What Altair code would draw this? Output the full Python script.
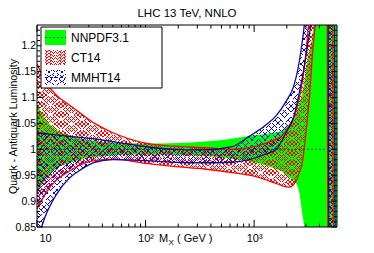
import math
import altair as alt
import pandas as pd

# ---------------- data ----------------
TITLE = "LHC 13 TeV, NNLO"
Y_TITLE = "Quark - Antiquark Luminosity"
SERIES = ["NNPDF3.1", "CT14", "MMHT14"]

X_TICKS = [10, 100, 1000]
X_MINOR = [20, 30, 40, 50, 60, 70, 80, 90, 200, 300, 400, 500, 600, 700, 800, 900,
           2000, 3000, 4000, 5000]
Y_TICKS = [0.85, 0.9, 0.95, 1.0, 1.05, 1.1, 1.15, 1.2]
Y_MINOR = [0.86, 0.87, 0.88, 0.89, 0.91, 0.92, 0.93, 0.94, 0.96, 0.97, 0.98, 0.99,
           1.01, 1.02, 1.03, 1.04, 1.06, 1.07, 1.08, 1.09, 1.11, 1.12, 1.13, 1.14,
           1.16, 1.17, 1.18, 1.19, 1.21, 1.22, 1.23]

# NNPDF3.1 band (ratio to its own central value)
M_NN = [10, 12, 15, 20, 25, 35, 50, 100, 200, 350, 600, 1000, 1500, 1800, 2100,
        2450, 2600, 2780, 2900, 3030, 3440, 3830, 5800]
NN_LO = [0.916, 0.942, 0.962, 0.974, 0.980, 0.985, 0.988, 0.990, 0.989, 0.987, 0.982,
         0.975, 0.964, 0.957, 0.946, 0.933, 0.918, 0.875, 0.850, 0.80, 0.80, 0.80, 0.80]
NN_HI = [1.086, 1.058, 1.038, 1.027, 1.021, 1.016, 1.013, 1.011, 1.012, 1.015, 1.020,
         1.027, 1.032, 1.036, 1.048, 1.070, 1.088, 1.110, 1.130, 1.160, 1.220, 1.30, 1.30]

# CT14 band
M_CT = [10, 12, 15, 20, 25, 34, 50, 100, 180, 350, 625, 1000, 1250, 1600, 1800, 2100,
        2450, 2610, 2780, 3030, 3230, 3440, 3700, 4700, 4780, 5300, 5380, 5800]
CT_LO = [0.885, 0.915, 0.940, 0.958, 0.970, 0.978, 0.981, 0.973, 0.967, 0.962, 0.955,
         0.948, 0.942, 0.934, 0.930, 0.927, 0.940, 0.955, 0.975, 1.040, 1.100, 1.180,
         1.245, 1.30, 0.80, 0.80, 0.80, 0.80]
CT_HI = [1.165, 1.130, 1.105, 1.085, 1.070, 1.050, 1.032, 1.012, 1.006, 1.003, 1.000,
         1.005, 1.011, 1.020, 1.026, 1.045, 1.076, 1.100, 1.130, 1.195, 1.26, 1.30,
         1.30, 1.30, 1.30, 1.30, 0.80, 0.80]

# MMHT14 band
M_MM = [10, 11, 12, 15, 20, 25, 34, 50, 100, 180, 350, 625, 900, 1250, 1600, 2000,
        2300, 2610, 2900, 3100, 3440, 4800, 4880, 5500, 5580, 5800]
MM_LO = [0.830, 0.850, 0.872, 0.912, 0.945, 0.960, 0.975, 0.980, 0.978, 0.975, 0.974,
         0.975, 0.980, 0.990, 1.000, 1.035, 1.060, 1.110, 1.160, 1.200, 1.250, 1.30,
         0.80, 0.80, 0.80, 0.80]
MM_HI = [1.032, 1.031, 1.030, 1.028, 1.025, 1.023, 1.020, 1.015, 1.005, 1.000, 0.999,
         1.005, 1.025, 1.045, 1.065, 1.095, 1.120, 1.170, 1.240, 1.30, 1.30, 1.30,
         1.30, 1.30, 0.80, 0.80]

# ---------------- layout / style ----------------
XD = [10, 5800]
YD = [0.85, 1.24]
PW, PH = 300, 202
FONT = "Liberation Sans"
GREEN = "#00ff00"
RED = "#ff0000"
BLUE = "#0000ff"
NAVY = "#0a0a9a"
CLEAR = "rgba(255,255,255,0)"


def bbox_w(ms):
    return PW * (math.log10(max(ms)) - math.log10(min(ms))) / (math.log10(XD[1]) - math.log10(XD[0]))


def stripes(color, spacing, thick, W, anti=False):
    """Linear gradient (bounding-box units) imitating a line hatch."""
    dt = spacing / (2.0 * W)
    dw = thick / (2.0 * W)
    stops = []
    t = 0.0
    while t < 1.0:
        a = round(t, 6)
        b = round(min(t + dw, 1.0), 6)
        c = round(min(t + dt, 1.0), 6)
        stops += [{"offset": a, "color": color}, {"offset": b, "color": color},
                  {"offset": b, "color": CLEAR}, {"offset": c, "color": CLEAR}]
        t += dt
    g = {"gradient": "linear", "stops": stops}
    if anti:
        g.update(x1=1, y1=0, x2=0, y2=1)
    else:
        g.update(x1=0, y1=0, x2=1, y2=1)
    return g


X_AXIS = alt.Axis(values=X_TICKS,
                  labelExpr="datum.value == 10 ? '10' : datum.value == 100 ? '10²' : '10³'",
                  ticks=False, tickSize=0, domain=False, grid=False, labelFont=FONT,
                  labelFontSize=11, labelColor="black", labelBaseline="alphabetic",
                  labelPadding=14.5, labelFlush=True, labelFlushOffset=-2, title=None)
Y_AXIS = alt.Axis(values=Y_TICKS, format="~g", ticks=False, tickSize=0, domain=False,
                  grid=False, labelFont=FONT, labelFontSize=10.5, labelColor="black",
                  labelPadding=1.5, title=Y_TITLE, titleFont=FONT, titleFontSize=10.5,
                  titleFontWeight="normal", titleColor="black", titleAngle=270,
                  titleX=-21, titleY=PH / 2, titleAlign="center",
                  titleBaseline="alphabetic")


def X(field):
    return alt.X(f"{field}:Q", scale=alt.Scale(type="log", domain=XD, nice=False), axis=X_AXIS)


def Y(field):
    return alt.Y(f"{field}:Q", scale=alt.Scale(domain=YD, nice=False, zero=False), axis=Y_AXIS)


nn = pd.DataFrame({"M": M_NN, "lo": NN_LO, "hi": NN_HI})
ct = pd.DataFrame({"M": M_CT, "lo": CT_LO, "hi": CT_HI})
mm = pd.DataFrame({"M": M_MM, "lo": MM_LO, "hi": MM_HI})
one = pd.DataFrame({"v": [1.0]})

layers = []

# NNPDF green band
layers.append(alt.Chart(nn).mark_area(fill=GREEN, clip=True, interpolate="monotone").encode(
    x=X("M"), y=Y("lo"), y2="hi"))
# NNPDF central line
layers.append(alt.Chart(one).mark_rule(color="#1d4d1d", strokeDash=[2, 2], strokeWidth=1).encode(y=Y("v")))

# hatched bands
for df, col, sp, th in [(ct, RED, 4.2, 0.8), (mm, BLUE, 6.5, 0.8)]:
    W = bbox_w(df["M"])
    for anti in (False, True):
        layers.append(alt.Chart(df).mark_area(
            fill=stripes(col, sp, th, W, anti), clip=True, interpolate="monotone").encode(
            x=X("M"), y=Y("lo"), y2="hi"))

# band edges
for df, col in [(ct, RED), (mm, NAVY)]:
    for f in ("lo", "hi"):
        layers.append(alt.Chart(df).mark_line(color=col, strokeWidth=1.3, clip=True,
                                              interpolate="monotone").encode(x=X("M"), y=Y(f)))

# inward ticks on all four sides
ymaj = pd.DataFrame({"v": Y_TICKS})
ymin = pd.DataFrame({"v": Y_MINOR})
xmaj = pd.DataFrame({"v": X_TICKS})
xmin = pd.DataFrame({"v": X_MINOR})
for df, ln in [(ymaj, 6), (ymin, 3)]:
    layers.append(alt.Chart(df).mark_rule(color="black", strokeWidth=1).encode(
        y=Y("v"), x=alt.value(0), x2=alt.value(ln)))
    layers.append(alt.Chart(df).mark_rule(color="black", strokeWidth=1).encode(
        y=Y("v"), x=alt.value(PW), x2=alt.value(PW - ln)))
for df, ln in [(xmaj, 7), (xmin, 3.5)]:
    layers.append(alt.Chart(df).mark_rule(color="black", strokeWidth=1).encode(
        x=X("v"), y=alt.value(PH), y2=alt.value(PH - ln)))
    layers.append(alt.Chart(df).mark_rule(color="black", strokeWidth=1).encode(
        x=X("v"), y=alt.value(0), y2=alt.value(ln)))

# frame
deco = pd.DataFrame({"a": [0]})
layers.append(alt.Chart(deco).mark_rect(filled=False, stroke="black", strokeWidth=1).encode(
    x=alt.value(0), x2=alt.value(PW), y=alt.value(0), y2=alt.value(PH)))

# legend
layers.append(alt.Chart(deco).mark_rect(fill="white", stroke="black", strokeWidth=1).encode(
    x=alt.value(4), x2=alt.value(125), y=alt.value(2), y2=alt.value(63)))
layers.append(alt.Chart(deco).mark_rect(fill=GREEN).encode(
    x=alt.value(8), x2=alt.value(29), y=alt.value(5), y2=alt.value(20)))
layers.append(alt.Chart(deco).mark_rule(color="#1d4d1d", strokeDash=[2, 2], strokeWidth=1).encode(
    x=alt.value(8), x2=alt.value(29), y=alt.value(12.5)))
for (y0, y1), col, sp in [((25, 40), RED, 4.2), ((45, 60), BLUE, 6.5)]:
    for anti in (False, True):
        layers.append(alt.Chart(deco).mark_rect(fill=stripes(col, sp, 0.8, 21, anti)).encode(
            x=alt.value(8), x2=alt.value(29), y=alt.value(y0), y2=alt.value(y1)))
layers.append(alt.Chart(deco).mark_rule(color=BLUE, strokeDash=[3, 2], strokeWidth=1).encode(
    x=alt.value(8), x2=alt.value(29), y=alt.value(52.5)))
for name, yc in zip(SERIES, [13, 33, 53]):
    layers.append(alt.Chart(deco).mark_text(align="left", baseline="middle", font=FONT,
                                            fontSize=12, color="black").encode(
        x=alt.value(34), y=alt.value(yc), text=alt.value(name)))

# chart title and x title
layers.append(alt.Chart(deco).mark_text(align="center", baseline="alphabetic", font=FONT,
                                        fontSize=11.5, color="black").encode(
    x=alt.value(PW / 2), y=alt.value(-8), text=alt.value(TITLE)))
layers.append(alt.Chart(deco).mark_text(align="left", baseline="alphabetic", font=FONT,
                                        fontSize=11, color="black").encode(
    x=alt.value(122), y=alt.value(216.5), text=alt.value("M")))
layers.append(alt.Chart(deco).mark_text(align="left", baseline="alphabetic", font=FONT,
                                        fontSize=8, color="black").encode(
    x=alt.value(131.5), y=alt.value(219.5), text=alt.value("X")))
layers.append(alt.Chart(deco).mark_text(align="left", baseline="alphabetic", font=FONT,
                                        fontSize=11, color="black").encode(
    x=alt.value(140), y=alt.value(216.5), text=alt.value("( GeV )")))

chart = alt.layer(*layers).properties(
    width=PW, height=PH,
    padding={"left": 29, "top": 17, "right": 21, "bottom": 18},
    autosize=alt.AutoSizeParams(type="none"),
    background="white",
).configure_view(stroke=None)

chart.save("out.html", embed_options={"renderer": "svg", "actions": False})
